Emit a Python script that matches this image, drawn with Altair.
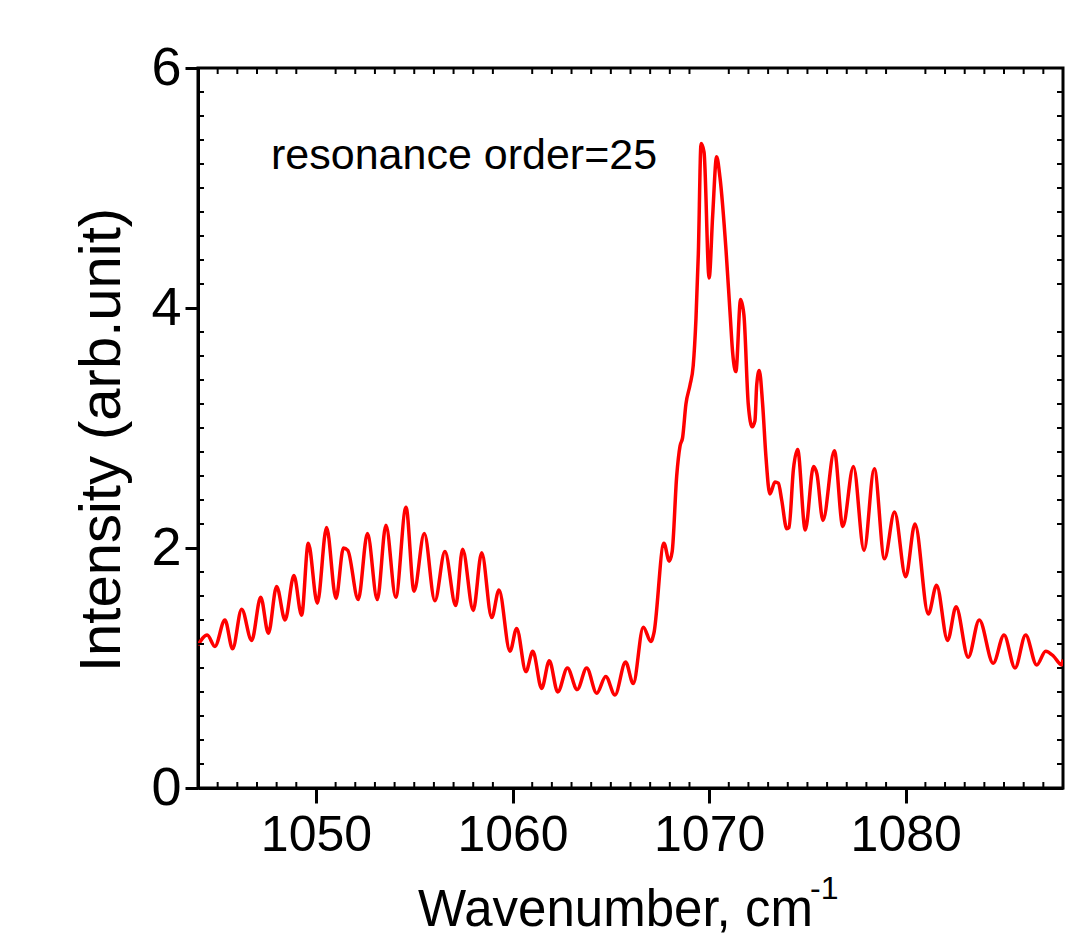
import altair as alt
import pandas as pd

# ---- data ----
wavenumber = [
    1044.00, 1044.47, 1044.86, 1045.37, 1045.76, 1046.22, 1046.73, 1047.19, 1047.58, 1048.00,
    1048.43, 1048.88, 1049.27, 1049.61, 1050.07, 1050.54, 1051.02, 1051.40, 1051.62, 1052.15,
    1052.62, 1053.12, 1053.56, 1054.06, 1054.58, 1054.99, 1055.51, 1056.05, 1056.56, 1057.11,
    1057.46, 1058.00, 1058.43, 1058.94, 1059.31, 1059.87, 1060.21, 1060.68, 1061.03, 1061.48,
    1061.87, 1062.30, 1062.79, 1063.29, 1063.77, 1064.28, 1064.74, 1065.21, 1065.75, 1066.14,
    1066.65, 1067.04, 1067.19, 1067.70, 1067.97, 1068.12, 1068.35, 1068.52, 1068.65, 1068.82,
    1069.03, 1069.19, 1069.33, 1069.45, 1069.59, 1069.74, 1070.00, 1070.18, 1070.38, 1070.55,
    1070.86, 1071.06, 1071.20, 1071.36, 1071.60, 1071.77, 1071.99, 1072.19, 1072.33, 1072.42,
    1072.55, 1072.72, 1072.89, 1073.09, 1073.35, 1073.52, 1073.69, 1073.95, 1074.06, 1074.29,
    1074.50, 1074.89, 1075.31, 1075.48, 1075.79, 1076.37, 1076.80, 1077.34, 1077.88, 1078.40,
    1078.92, 1079.43, 1080.00, 1080.47, 1081.15, 1081.57, 1082.13, 1082.56, 1083.18, 1083.74,
    1084.45, 1085.00, 1085.56, 1086.10, 1086.66, 1087.12, 1087.51, 1087.93, 1088.00,
]
intensity = [
    1.19, 1.275, 1.18, 1.40, 1.16, 1.49, 1.23, 1.59, 1.29, 1.68,
    1.40, 1.77, 1.44, 2.04, 1.54, 2.17, 1.58, 2.00, 1.98, 1.57,
    2.12, 1.57, 2.19, 1.59, 2.34, 1.64, 2.12, 1.56, 1.97, 1.52,
    1.99, 1.48, 1.96, 1.42, 1.65, 1.14, 1.33, 0.97, 1.14, 0.83,
    1.06, 0.80, 1.00, 0.82, 1.00, 0.79, 0.93, 0.775, 1.05, 0.87,
    1.34, 1.22, 1.29, 2.04, 1.89, 1.97, 2.60, 2.85, 2.92, 3.20,
    3.36, 3.52, 3.91, 4.45, 5.37, 5.30, 4.25, 4.77, 5.26, 5.09,
    4.48, 3.97, 3.62, 3.47, 4.07, 3.94, 3.20, 3.01, 3.06, 3.36,
    3.48, 3.20, 2.76, 2.45, 2.55, 2.54, 2.40, 2.16, 2.17, 2.66,
    2.82, 2.15, 2.68, 2.62, 2.23, 2.81, 2.18, 2.68, 1.98, 2.66,
    1.91, 2.30, 1.76, 2.20, 1.45, 1.69, 1.23, 1.51, 1.09, 1.40,
    1.04, 1.275, 1.00, 1.275, 1.025, 1.14, 1.10, 1.025, 1.07,
]
x_major = [1050, 1060, 1070, 1080]
y_major = [0, 2, 4, 6]
x_minor = [v for v in range(1045, 1088) if v not in x_major]
y_minor = [round(0.2 * i, 1) for i in range(1, 30) if round(0.2 * i, 1) not in (2.0, 4.0)]
annotation = "resonance order=25"
x_title = "Wavenumber, cm"
x_title_sup = "-1"
y_title = "Intensity (arb.unit)"

FONT = "Liberation Sans"
W, H = 865, 720

df = pd.DataFrame({"x": wavenumber, "y": intensity})
xs = alt.Scale(domain=[1044, 1088], nice=False, zero=False)
ys = alt.Scale(domain=[0, 6], nice=False, zero=False)

line = alt.Chart(df).mark_line(
    color="#ff0000", strokeWidth=3.5, interpolate="monotone", clip=True
).encode(
    x=alt.X("x:Q", scale=xs, axis=alt.Axis(values=x_major, title=None, format="d",
                                           tickSize=15, labelPadding=7, labelFontSize=50)),
    y=alt.Y("y:Q", scale=ys, axis=alt.Axis(values=y_major, title=None, format="d",
                                           tickSize=13, labelPadding=4, labelFontSize=54)),
)

dmx = pd.DataFrame({"x": x_minor})
dmy = pd.DataFrame({"y": y_minor})
minor_bottom = alt.Chart(dmx).mark_rule(color="black", strokeWidth=2).encode(
    x=alt.X("x:Q", scale=xs), y=alt.value(H), y2=alt.value(H - 6))
minor_top = alt.Chart(dmx).mark_rule(color="black", strokeWidth=2).encode(
    x=alt.X("x:Q", scale=xs), y=alt.value(0), y2=alt.value(6))
minor_left = alt.Chart(dmy).mark_rule(color="black", strokeWidth=2).encode(
    y=alt.Y("y:Q", scale=ys), x=alt.value(0), x2=alt.value(6))
minor_right = alt.Chart(dmy).mark_rule(color="black", strokeWidth=2).encode(
    y=alt.Y("y:Q", scale=ys), x=alt.value(W), x2=alt.value(W - 6))

one = pd.DataFrame({"t": [annotation], "xt": [x_title], "xs": [x_title_sup], "yt": [y_title]})
ann = alt.Chart(one).mark_text(font=FONT, fontSize=43, align="left", baseline="alphabetic",
                               color="black").encode(
    text="t:N", x=alt.value(73), y=alt.value(101))
xt = alt.Chart(one).mark_text(font=FONT, fontSize=51, align="left", baseline="alphabetic",
                              color="black").encode(
    text="xt:N", x=alt.value(220), y=alt.value(858))
xsup = alt.Chart(one).mark_text(font=FONT, fontSize=32, align="left", baseline="alphabetic",
                                color="black").encode(
    text="xs:N", x=alt.value(612), y=alt.value(831))
yt = alt.Chart(one).mark_text(font=FONT, fontSize=58, align="center", baseline="alphabetic",
                              angle=270, color="black").encode(
    text="yt:N", x=alt.value(-78), y=alt.value(372))

chart = alt.layer(
    line, minor_bottom, minor_top, minor_left, minor_right, ann, xt, xsup, yt
).properties(
    width=W, height=H,
    autosize=alt.AutoSizeParams(type="none"),
    padding={"left": 198, "top": 68, "right": 1084 - 198 - W, "bottom": 937 - 68 - H},
    background="white",
).configure_axis(
    domainColor="black", domainWidth=3, tickColor="black", tickWidth=3,
    labelFont=FONT, labelColor="black", grid=False,
).configure_view(stroke="black", strokeWidth=3)

chart.save("out.html", embed_options={"renderer": "svg", "actions": False})
